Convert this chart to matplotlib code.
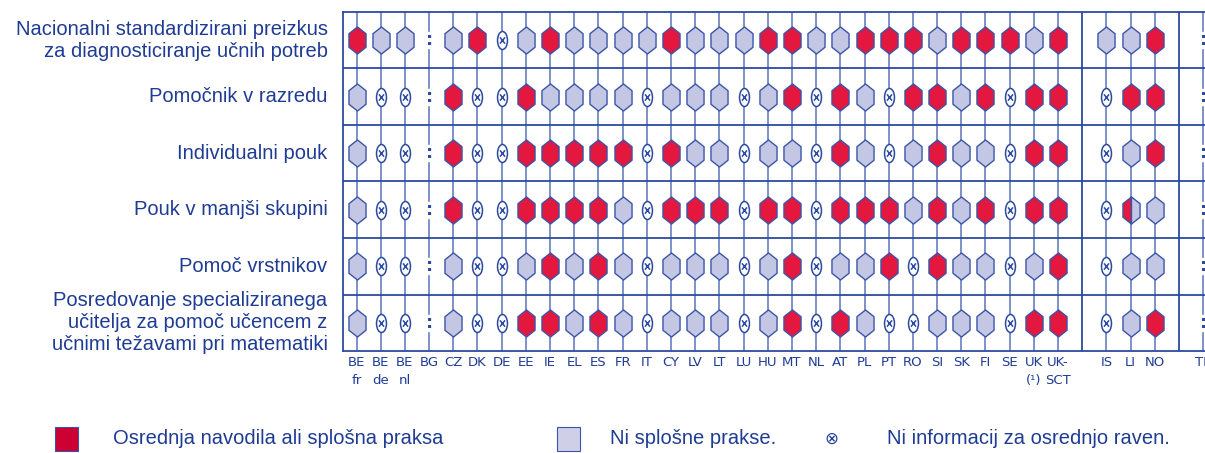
import numpy as np
import matplotlib.pyplot as plt
from matplotlib.path import Path
from matplotlib.patches import Rectangle

# country groups (a one-column gap is left between the groups)
eu = ['BE\nfr', 'BE\nde', 'BE\nnl', 'BG', 'CZ', 'DK', 'DE', 'EE', 'IE', 'EL', 'ES', 'FR',
      'IT', 'CY', 'LV', 'LT', 'LU', 'HU', 'MT', 'NL', 'AT', 'PL', 'PT', 'RO', 'SI', 'SK',
      'FI', 'SE', 'UK\n(¹)', 'UK-\nSCT']
efta = ['IS', 'LI', 'NO']
other = ['TR']

row_labels = [
    'Nacionalni standardizirani preizkus\nza diagnosticiranje učnih potreb',
    'Pomočnik v razredu',
    'Individualni pouk',
    'Pouk v manjši skupini',
    'Pomoč vrstnikov',
    'Posredovanje specializiranega\nučitelja za pomoč učencem z\nučnimi težavami pri matematiki',
]

# r = central guidelines / general practice, g = no general practice,
# x = no information at central level, : = not available, h = half/half
status_eu = [
    "rgg:grxgrggggrgggrrggrrrgrrrgr",
    "gxx:rxxrggggxgggxgrxrgxrrgrxrr",
    "gxx:rxxrrrrrxrggxggxrgxgrggxrr",
    "gxx:rxxrrrrgxrrrxrrxrrrgrgrxrr",
    "gxx:gxxgrgrgxgggxgrxggrxrggxgr",
    "gxx:gxxrrgrgxgggxgrxrgxxgggxrr",
]
status_efta = ["ggr", "xrr", "xgr", "xhg", "xgg", "xgr"]
status_other = [":", ":", ":", ":", ":", ":"]

legend_labels = ['Osrednja navodila ali splošna praksa', 'Ni splošne prakse.',
                 'Ni informacij za osrednjo raven.']

RED = '#e4173e'
GREY = '#c4c7e4'
EDGE = '#3a55a8'
DARK = '#2c4a9e'
LINE = '#7d92cb'
TXT = '#1f3c94'

# marker shapes
hx = 0.63
hexagon = Path([(0, 1), (hx, 0.5), (hx, -0.5), (0, -1), (-hx, -0.5), (-hx, 0.5), (0, 1)],
               closed=True)
half_left = Path([(0, 1), (0, -1), (-hx, -0.5), (-hx, 0.5), (0, 1)], closed=True)
half_right = Path([(0, 1), (hx, 0.5), (hx, -0.5), (0, -1), (0, 1)], closed=True)
circ = Path.unit_circle()
ell = Path(circ.vertices * np.array([0.55, 1.0]), circ.codes)
cross = Path([(-0.28, -0.35), (0.28, 0.35), (-0.28, 0.35), (0.28, -0.35)],
             [Path.MOVETO, Path.LINETO, Path.MOVETO, Path.LINETO])
nodata = Path.make_compound_path(ell, cross)

fig = plt.figure(figsize=(12.05, 4.53), dpi=100)
W, H = 1205, 453
x0 = -0.56
x1 = 36.5
colw = 24.19
ax = fig.add_axes([343 / W, 102 / H, (x1 - x0) * colw / W, 339 / H])
ax.set_xlim(x0, x1)
ax.set_ylim(6, 0)
ax.set_xticks([])
ax.set_yticks([])
for s in ['left', 'top', 'bottom']:
    ax.spines[s].set_color(DARK)
    ax.spines[s].set_linewidth(1.3)
ax.spines['right'].set_visible(False)

# column positions
labels = eu + [''] + efta + [''] + other
pos = np.arange(len(labels))
gaps = [len(eu), len(eu) + len(efta) + 1]
cols = [p for p in pos if p not in gaps]

ax.vlines(cols, 0, 6, color=LINE, lw=1.4, zorder=1)
ax.vlines(gaps, 0, 6, color=DARK, lw=1.3, zorder=1)
ax.hlines(np.arange(1, 6), x0, x1, color=DARK, lw=1.3, zorder=1)

for i in range(6):
    codes = status_eu[i] + status_efta[i] + status_other[i]
    y = i + 0.5
    for x, c in zip(cols, codes):
        if c == 'r':
            ax.plot(x, y, marker=hexagon, ms=19.5, mfc=RED, mec=EDGE, mew=1.0, zorder=3)
        elif c == 'g':
            ax.plot(x, y, marker=hexagon, ms=19.5, mfc=GREY, mec=EDGE, mew=1.0, zorder=3)
        elif c == 'h':
            ax.plot(x, y, marker=half_left, ms=19.5, mfc=RED, mec=EDGE, mew=1.0, zorder=3)
            ax.plot(x, y, marker=half_right, ms=19.5, mfc=GREY, mec=EDGE, mew=1.0, zorder=3)
        elif c == 'x':
            ax.plot(x, y, marker=nodata, ms=13, mfc='white', mec=DARK, mew=1.1, zorder=3)
        else:
            ax.plot(x, y, 's', ms=12, color='white', zorder=2)
            ax.text(x, y, ':', ha='center', va='center', fontsize=13, fontweight='bold',
                    color=DARK, zorder=3)
    ax.text(-1.2, y, row_labels[i], ha='right', va='center', fontsize=14.5,
            family='Liberation Sans', color=TXT, linespacing=1.2, clip_on=False)

for x, lab in zip(pos, labels):
    if lab:
        ax.text(x, 6.09, lab, ha='center', va='top', fontsize=9.5,
                family=['Liberation Sans Narrow', 'DejaVu Sans'], color=TXT,
                linespacing=1.45, clip_on=False)

# legend
fig.patches.append(Rectangle((55 / W, 2 / H), 23 / W, 24 / H, transform=fig.transFigure,
                             facecolor='#cc0033', edgecolor=EDGE, lw=0.8))
fig.text(113 / W, 14 / H, legend_labels[0], fontsize=14.5, family='Liberation Sans',
         color=TXT, va='center')
fig.patches.append(Rectangle((557 / W, 2 / H), 23 / W, 24 / H, transform=fig.transFigure,
                             facecolor='#cfd0e8', edgecolor=EDGE, lw=0.8))
fig.text(610 / W, 14 / H, legend_labels[1], fontsize=14.5, family='Liberation Sans',
         color=TXT, va='center')
fig.text(831 / W, 14 / H, '⊗', fontsize=12, color=TXT, va='center', ha='center')
fig.text(887 / W, 14 / H, legend_labels[2], fontsize=14.5, family='Liberation Sans',
         color=TXT, va='center')

fig.savefig('out.png', dpi=100)
